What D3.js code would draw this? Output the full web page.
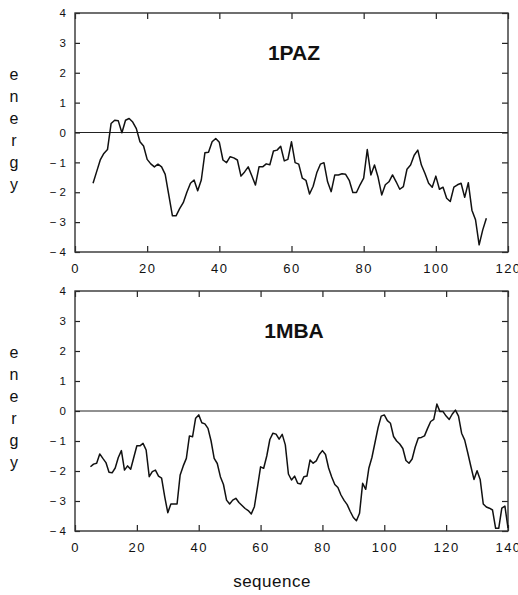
<!DOCTYPE html>
<html>
<head>
<meta charset="utf-8">
<script src="https://cdn.jsdelivr.net/npm/d3@7"></script>
<style>
  body { margin: 0; background: #fff; }
  svg { display: block; }
  text { font-family: "Liberation Sans", Arial, sans-serif; fill: #111; }
</style>
</head>
<body>
<svg id="chart"></svg>
<script>
// residue energy profiles, first residue number then one value per residue
var pazStart = 5;
var pazEnergy = [
  -1.70, -1.31, -0.92, -0.70, -0.57, 0.30, 0.41, 0.39, -0.01, 0.41,
  0.47, 0.35, 0.13, -0.31, -0.45, -0.90, -1.05, -1.15, -1.06, -1.15,
  -1.40, -2.10, -2.79, -2.79, -2.55, -2.35, -2.00, -1.70, -1.59, -1.95,
  -1.59, -0.68, -0.66, -0.31, -0.20, -0.33, -0.92, -1.01, -0.81, -0.85,
  -0.92, -1.46, -1.32, -1.15, -1.45, -1.76, -1.15, -1.15, -1.05, -1.08,
  -0.62, -0.59, -0.46, -0.95, -0.90, -0.31, -1.01, -1.06, -1.53, -1.60,
  -2.06, -1.80, -1.35, -1.06, -1.01, -1.65, -1.98, -1.42, -1.42, -1.38,
  -1.40, -1.60, -2.01, -2.01, -1.75, -1.53, -0.57, -1.42, -1.09, -1.50,
  -2.09, -1.75, -1.65, -1.42, -1.65, -1.90, -1.81, -1.23, -1.09, -0.76,
  -0.59, -1.09, -1.37, -1.70, -1.83, -1.46, -1.90, -1.83, -2.20, -2.31,
  -1.83, -1.75, -1.70, -2.17, -1.68, -2.60, -2.92, -3.76, -3.26, -2.87
];

var mbaStart = 5;
var mbaEnergy = [
  -1.86, -1.77, -1.74, -1.43, -1.58, -1.72, -2.04, -2.06, -1.90, -1.55,
  -1.32, -1.97, -1.83, -1.94, -1.55, -1.16, -1.16, -1.08, -1.30, -2.19,
  -2.02, -1.97, -2.17, -2.24, -2.85, -3.39, -3.10, -3.10, -3.10, -2.13,
  -1.83, -1.58, -0.83, -0.86, -0.24, -0.13, -0.39, -0.43, -0.58, -1.00,
  -1.58, -1.75, -2.19, -2.45, -2.97, -3.10, -2.97, -2.91, -3.05, -3.15,
  -3.25, -3.32, -3.43, -3.19, -2.54, -1.86, -1.91, -1.50, -0.95, -0.74,
  -0.77, -0.94, -0.78, -1.13, -2.10, -2.30, -2.17, -2.41, -2.43, -2.19,
  -2.17, -1.63, -1.74, -1.66, -1.45, -1.32, -1.45, -1.90, -2.20, -2.45,
  -2.55, -2.80, -2.98, -3.12, -3.35, -3.55, -3.66, -3.41, -2.41, -2.61,
  -1.91, -1.55, -1.05, -0.55, -0.17, -0.13, -0.32, -0.41, -0.85, -1.00,
  -1.10, -1.25, -1.65, -1.74, -1.60, -1.20, -0.90, -0.88, -0.83, -0.58,
  -0.35, -0.28, 0.23, -0.02, -0.02, -0.17, -0.28, -0.10, 0.03, -0.17,
  -0.74, -0.97, -1.40, -1.85, -2.28, -1.99, -2.28, -3.10, -3.20, -3.24,
  -3.30, -3.91, -3.91, -3.24, -3.17, -3.90
];

var yTicks = [-4, -3, -2, -1, 0, 1, 2, 3, 4];
var pazXTicks = [0, 20, 40, 60, 80, 100, 120];
var mbaXTicks = [0, 20, 40, 60, 80, 100, 120, 140];
var yLetters = ["e", "n", "e", "r", "g", "y"];

var W = 518, H = 595;
var svg = d3.select("#chart").attr("width", W).attr("height", H);

function panel(name, start, values, xMax, xTicks, top, bottom) {
  var left = 75, right = 508;
  var x = d3.scaleLinear().domain([0, xMax]).range([left, right]);
  var y = d3.scaleLinear().domain([-4, 4]).range([bottom, top]);
  var g = svg.append("g");

  var fmtY = function(d) { return d < 0 ? "\u2212 " + Math.abs(d) : String(d); };

  // inward ticks on all four sides
  g.append("g").attr("transform", "translate(0," + bottom + ")")
    .call(d3.axisBottom(x).tickValues(xTicks).tickSizeInner(-6).tickSizeOuter(0).tickPadding(12))
    .call(function(a) {
      a.select(".domain").remove();
      a.selectAll("text").attr("font-size", 13).style("letter-spacing", "1.5px")
        .attr("font-family", "DejaVu Sans").attr("fill", "#222");
    });
  g.append("g").attr("transform", "translate(0," + top + ")")
    .call(d3.axisTop(x).tickValues(xTicks).tickSizeInner(-6).tickSizeOuter(0).tickFormat(""))
    .call(function(a) { a.select(".domain").remove(); });
  g.append("g").attr("transform", "translate(" + left + ",0)")
    .call(d3.axisLeft(y).tickValues(yTicks).tickSizeInner(-5).tickSizeOuter(0).tickPadding(9).tickFormat(fmtY))
    .call(function(a) {
      a.select(".domain").remove();
      a.selectAll("text").attr("font-size", 11.5).attr("font-family", "DejaVu Sans").attr("fill", "#222");
    });
  g.append("g").attr("transform", "translate(" + right + ",0)")
    .call(d3.axisRight(y).tickValues(yTicks).tickSizeInner(-6).tickSizeOuter(0).tickFormat(""))
    .call(function(a) { a.select(".domain").remove(); });
  g.selectAll(".tick line").attr("stroke", "#222").attr("stroke-width", 1.2);

  g.append("rect")
    .attr("x", left).attr("y", top)
    .attr("width", right - left).attr("height", bottom - top)
    .attr("fill", "none").attr("stroke", "#333").attr("stroke-width", 1.4);

  g.append("line")
    .attr("x1", left).attr("x2", right)
    .attr("y1", y(0)).attr("y2", y(0))
    .attr("stroke", "#222").attr("stroke-width", 1);

  var line = d3.line()
    .x(function(d, i) { return x(start + i); })
    .y(function(d) { return y(d); });
  g.append("path")
    .datum(values)
    .attr("d", line)
    .attr("fill", "none")
    .attr("stroke", "#111")
    .attr("stroke-width", 1.5)
    .attr("stroke-linejoin", "round");

  g.append("text")
    .attr("x", 294).attr("y", top + 47)
    .attr("text-anchor", "middle")
    .attr("font-size", 21)
    .attr("font-weight", 600)
    .text(name);

  g.selectAll(".ylab")
    .data(yLetters)
    .enter()
    .append("text")
    .attr("x", 14)
    .attr("y", function(d, i) { return top + 67 + i * 22; })
    .attr("text-anchor", "middle")
    .attr("font-size", 16)
    .text(function(d) { return d; });
}

panel("1PAZ", pazStart, pazEnergy, 120, pazXTicks, 13, 252);
panel("1MBA", mbaStart, mbaEnergy, 140, mbaXTicks, 291, 531);

svg.append("text")
  .attr("x", 272).attr("y", 587)
  .attr("text-anchor", "middle")
  .attr("font-size", 17)
  .style("letter-spacing", "0.5px")
  .text("sequence");
</script>
</body>
</html>
